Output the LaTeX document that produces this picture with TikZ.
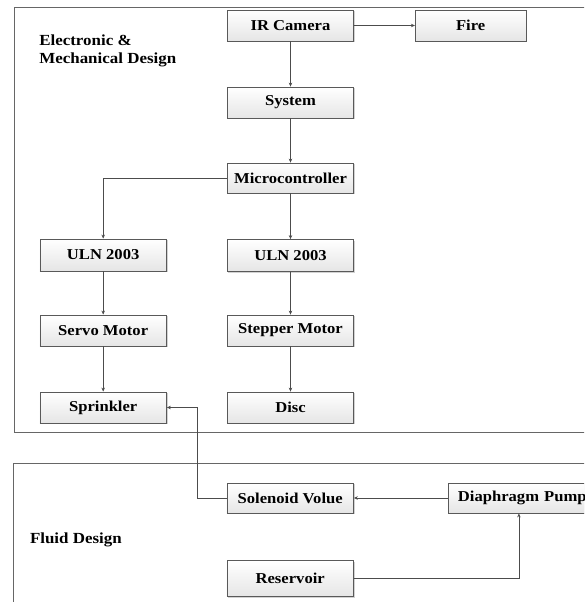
\documentclass[tikz,border=0pt]{standalone}
\usepackage{fontspec}
\setmainfont[FakeStretch=1.1]{Liberation Serif}
\usetikzlibrary{arrows.meta,calc,shadows}
\begin{document}
\begin{tikzpicture}[x=1pt,y=-1pt,
  blk/.style={draw=black!65, line width=0.8pt, top color=white, bottom color=black!10,
    drop shadow={shadow xshift=1.2pt, shadow yshift=-1.2pt, opacity=0.35},
    minimum width=126.6pt, minimum height=31pt, inner sep=3pt,
    font=\fontsize{15.1}{17}\selectfont\bfseries},
  conn/.style={draw=black!70, line width=0.7pt},
  arr/.style={conn, -{Stealth[length=4pt,width=3.5pt]}},
  frame/.style={draw=black!60, line width=0.9pt},
  title/.style={font=\fontsize{15.4}{18.3}\selectfont\bfseries, align=left, inner sep=0pt, anchor=west}]
\useasboundingbox (0,0) rectangle (584,602);
\clip (0,0) rectangle (584,602);
\fill[white] (0,0) rectangle (584,602);
% frames
\draw[frame] (700,7.5) -- (14.9,7.5) -- (14.9,432) -- (700,432);
\draw[frame] (700,463.3) -- (13,463.3) -- (13,700);
\node[title] (t1) at (39.1,51) {Electronic \&\\Mechanical Design};
\node[title] (t2) at (29.8,540) {Fluid Design};
% blocks
\node[blk] (ir) at (290.5,25.5) {IR Camera};
\node[blk, minimum width=110.6pt] (fire) at (470.6,25.5) {Fire};
\node[blk] (sys) at (290.5,102.5) {System};
\node[blk, minimum height=30pt] (mc) at (290.5,178) {Microcontroller};
\node[blk, minimum height=32pt] (ulnl) at (103.2,255) {ULN 2003};
\node[blk, minimum height=32pt] (ulnr) at (290.5,255.5) {ULN 2003};
\node[blk] (servo) at (103.2,330.5) {Servo Motor};
\node[blk] (step) at (290.5,330.5) {Stepper Motor};
\node[blk] (spr) at (103.2,407.5) {Sprinkler};
\node[blk] (disc) at (290.5,407.5) {Disc};
\node[blk, minimum height=30pt] (sol) at (290.2,498) {Solenoid Volue};
\node[blk, minimum height=30pt, text width=180.8pt, inner xsep=9.6pt, align=left] (dp) at (548.3,498) {Diaphragm Pump};
\node[blk, minimum height=36pt] (res) at (290.2,578.5) {Reservoir};
% connectors
\draw[arr] (ir.east) -- (fire.west);
\draw[arr] (ir.south) -- (sys.north);
\draw[arr] (sys.south) -- (mc.north);
\draw[arr] (mc.west) -| (ulnl.north);
\draw[arr] (mc.south) -- (ulnr.north);
\draw[arr] (ulnl.south) -- (servo.north);
\draw[arr] (ulnr.south) -- (step.north);
\draw[arr] (servo.south) -- (spr.north);
\draw[arr] (step.south) -- (disc.north);
\coordinate (bend) at ($(spr.east)+(30.2,0)$);
\draw[arr] (sol.west) -| (bend) -- (spr.east);
\draw[arr] (dp.west) -- (sol.east);
\coordinate (dpin) at ($(dp.south west)+(71,0)$);
\draw[arr] (res.east) -| (dpin);
\end{tikzpicture}
\end{document}
